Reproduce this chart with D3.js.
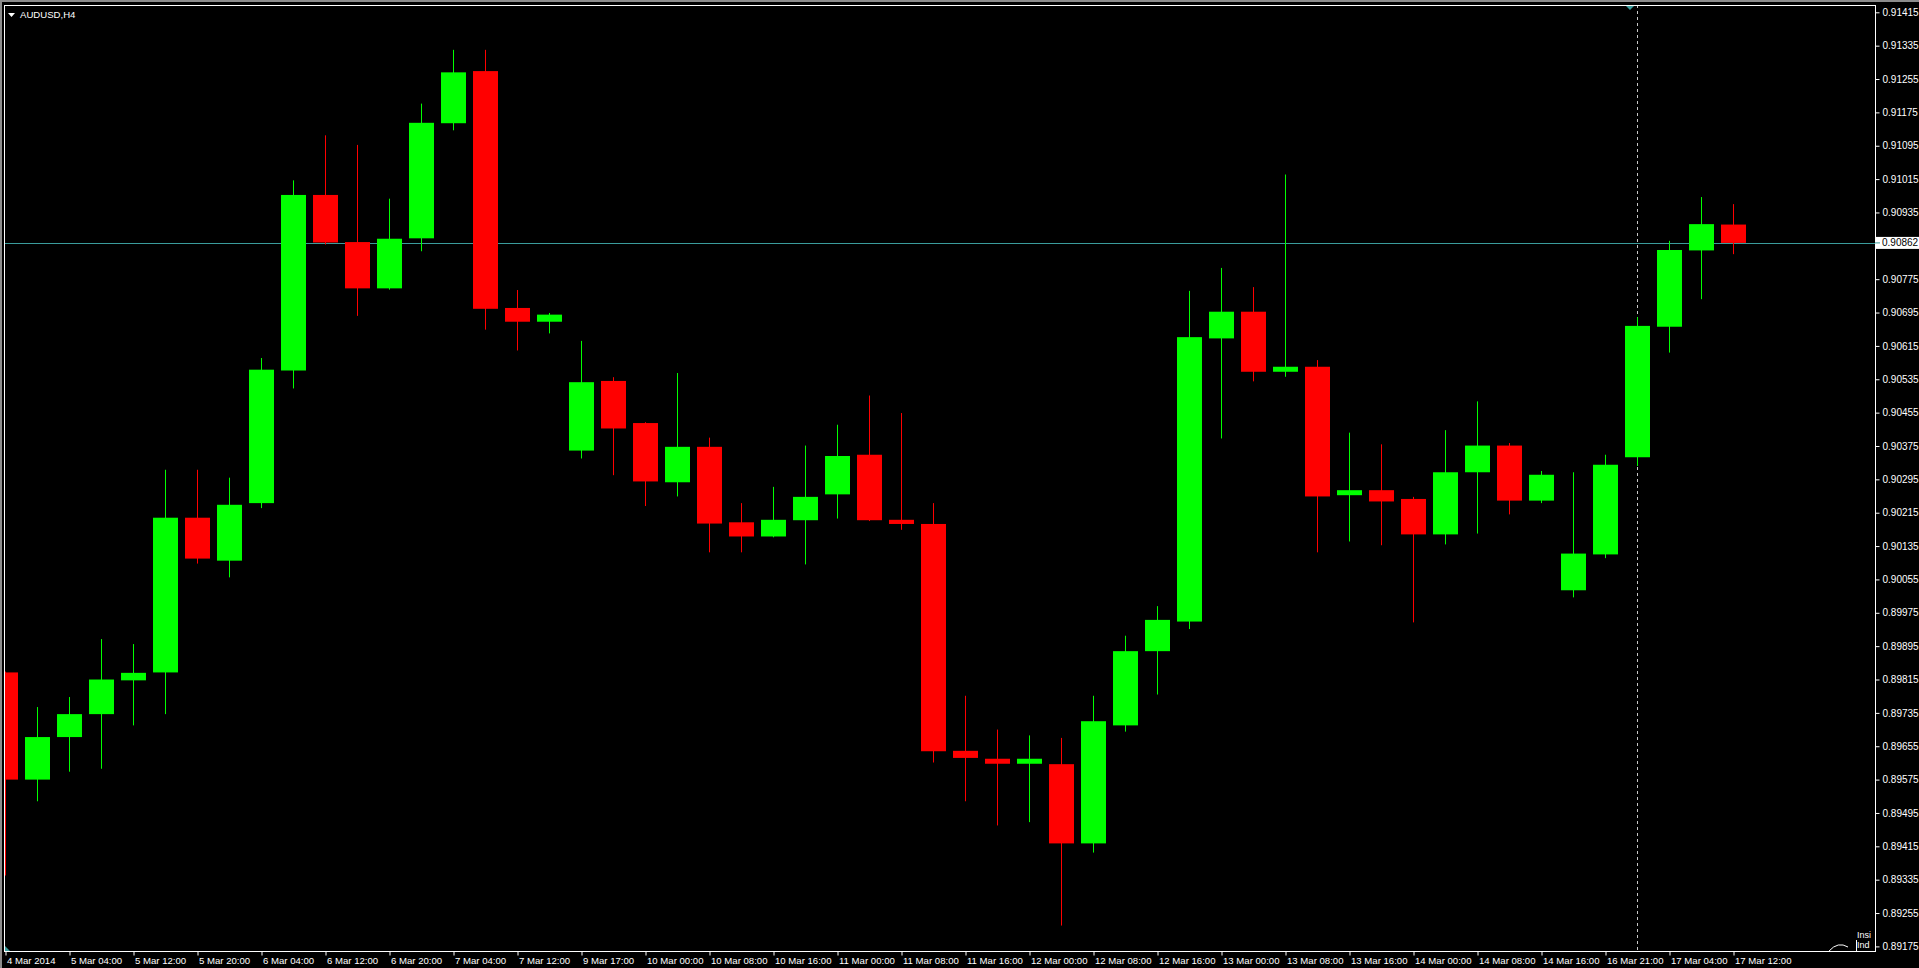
<!DOCTYPE html>
<html>
<head>
<meta charset="utf-8">
<script src="https://cdn.jsdelivr.net/npm/d3@7/dist/d3.min.js"></script>
<style>
  html, body { margin: 0; padding: 0; background: #000; overflow: hidden; }
  svg { display: block; }
  text { font-family: "Liberation Sans", Arial, sans-serif; }
</style>
</head>
<body>
<svg id="chart" width="1919" height="968"></svg>
<script>
// ---------------- DATA ----------------
const symbolTitle = "AUDUSD,H4";
const barTimes = [
  "4 Mar 20:00","5 Mar 00:00","5 Mar 04:00","5 Mar 08:00","5 Mar 12:00","5 Mar 16:00","5 Mar 20:00",
  "6 Mar 00:00","6 Mar 04:00","6 Mar 08:00","6 Mar 12:00","6 Mar 16:00","6 Mar 20:00",
  "7 Mar 00:00","7 Mar 04:00","7 Mar 08:00","7 Mar 12:00","7 Mar 16:00",
  "9 Mar 17:00","9 Mar 20:00",
  "10 Mar 00:00","10 Mar 04:00","10 Mar 08:00","10 Mar 12:00","10 Mar 16:00","10 Mar 20:00",
  "11 Mar 00:00","11 Mar 04:00","11 Mar 08:00","11 Mar 12:00","11 Mar 16:00","11 Mar 20:00",
  "12 Mar 00:00","12 Mar 04:00","12 Mar 08:00","12 Mar 12:00","12 Mar 16:00","12 Mar 20:00",
  "13 Mar 00:00","13 Mar 04:00","13 Mar 08:00","13 Mar 12:00","13 Mar 16:00","13 Mar 20:00",
  "14 Mar 00:00","14 Mar 04:00","14 Mar 08:00","14 Mar 12:00","14 Mar 16:00","14 Mar 20:00",
  "16 Mar 21:00","17 Mar 00:00","17 Mar 04:00","17 Mar 08:00","17 Mar 12:00"
];
const openValues = [
  0.89832,0.89575,0.89677,0.89732,0.89813,0.89832,0.90203,0.90100,0.90238,0.90556,
  0.90977,0.90864,0.90753,0.90873,0.91149,0.91274,0.90706,0.90673,0.90364,0.90531,
  0.90430,0.90288,0.90373,0.90192,0.90158,0.90197,0.90259,0.90354,0.90198,0.90188,
  0.89644,0.89625,0.89613,0.89612,0.89422,0.89705,0.89883,0.89954,0.90633,0.90697,
  0.90553,0.90565,0.90257,0.90269,0.90248,0.90163,0.90312,0.90376,0.90244,0.90029,
  0.90115,0.90348,0.90661,0.90844,0.90906
];
const highValues = [
  0.89834,0.89749,0.89773,0.89912,0.89900,0.90318,0.90318,0.90299,0.90586,0.91012,
  0.91120,0.91097,0.90968,0.91196,0.91325,0.91325,0.90749,0.90694,0.90627,0.90540,
  0.90432,0.90550,0.90395,0.90238,0.90277,0.90376,0.90426,0.90496,0.90454,0.90238,
  0.89776,0.89695,0.89681,0.89675,0.89776,0.89920,0.89991,0.90747,0.90802,0.90756,
  0.91026,0.90581,0.90407,0.90379,0.90253,0.90413,0.90482,0.90382,0.90315,0.90312,
  0.90354,0.90684,0.90867,0.90972,0.90955
];
const lowValues = [
  0.89345,0.89523,0.89594,0.89601,0.89705,0.89732,0.90093,0.90060,0.90226,0.90513,
  0.90858,0.90687,0.90750,0.90842,0.91132,0.90654,0.90604,0.90645,0.90345,0.90305,
  0.90231,0.90254,0.90120,0.90120,0.90156,0.90091,0.90201,0.90195,0.90174,0.89616,
  0.89523,0.89465,0.89473,0.89225,0.89400,0.89690,0.89779,0.89936,0.90393,0.90530,
  0.90541,0.90120,0.90146,0.90137,0.89952,0.90139,0.90165,0.90211,0.90238,0.90012,
  0.90106,0.90327,0.90599,0.90727,0.90835
];
const closeValues = [
  0.89575,0.89677,0.89732,0.89815,0.89831,0.90203,0.90105,0.90234,0.90558,0.90977,
  0.90863,0.90753,0.90872,0.91150,0.91271,0.90704,0.90673,0.90690,0.90528,0.90417,
  0.90290,0.90373,0.90189,0.90158,0.90198,0.90253,0.90351,0.90197,0.90188,0.89643,
  0.89627,0.89613,0.89625,0.89422,0.89715,0.89883,0.89958,0.90636,0.90697,0.90553,
  0.90565,0.90254,0.90269,0.90242,0.90163,0.90312,0.90376,0.90244,0.90306,0.90117,
  0.90330,0.90663,0.90845,0.90907,0.90862
];
const priceTicks = [
  0.91415,0.91335,0.91255,0.91175,0.91095,0.91015,0.90935,0.90775,0.90695,0.90615,
  0.90535,0.90455,0.90375,0.90295,0.90215,0.90135,0.90055,0.89975,0.89895,0.89815,
  0.89735,0.89655,0.89575,0.89495,0.89415,0.89335,0.89255,0.89175
];
const timeTickBars = [
  "4 Mar 20:00","5 Mar 04:00","5 Mar 12:00","5 Mar 20:00","6 Mar 04:00","6 Mar 12:00","6 Mar 20:00",
  "7 Mar 04:00","7 Mar 12:00","9 Mar 17:00","10 Mar 00:00","10 Mar 08:00","10 Mar 16:00",
  "11 Mar 00:00","11 Mar 08:00","11 Mar 16:00","12 Mar 00:00","12 Mar 08:00","12 Mar 16:00",
  "13 Mar 00:00","13 Mar 08:00","13 Mar 16:00","14 Mar 00:00","14 Mar 08:00","14 Mar 16:00",
  "16 Mar 21:00","17 Mar 04:00","17 Mar 12:00"
];
const timeTickLabels = [
  "4 Mar 2014","5 Mar 04:00","5 Mar 12:00","5 Mar 20:00","6 Mar 04:00","6 Mar 12:00","6 Mar 20:00",
  "7 Mar 04:00","7 Mar 12:00","9 Mar 17:00","10 Mar 00:00","10 Mar 08:00","10 Mar 16:00",
  "11 Mar 00:00","11 Mar 08:00","11 Mar 16:00","12 Mar 00:00","12 Mar 08:00","12 Mar 16:00",
  "13 Mar 00:00","13 Mar 08:00","13 Mar 16:00","14 Mar 00:00","14 Mar 08:00","14 Mar 16:00",
  "16 Mar 21:00","17 Mar 04:00","17 Mar 12:00"
];
const currentPrice = 0.90862;
const separatorBar = "17 Mar 00:00";

// ---------------- LAYOUT ----------------
const L = 4, T = 5, R = 1875, B = 951;
const svg = d3.select("#chart");

const bars = barTimes.map((t, i) => ({
  t, o: openValues[i], h: highValues[i], l: lowValues[i], c: closeValues[i]
}));

const x = d3.scalePoint().domain(barTimes).range([5, 5 + 32 * (barTimes.length - 1)]);
const y = d3.scaleLinear().domain([0.89175, 0.91415]).range([946.4, 12.3]);

// window frame (gray strips)
svg.append("rect").attr("x", 0).attr("y", 0).attr("width", 1919).attr("height", 2).attr("fill", "#8c8c8c");
svg.append("rect").attr("x", 0).attr("y", 0).attr("width", 2).attr("height", 968).attr("fill", "#8c8c8c");

svg.append("defs").append("clipPath").attr("id", "plot")
  .append("rect").attr("x", L + 0.5).attr("y", T + 0.5).attr("width", R - L - 0.5).attr("height", B - T - 0.5);

const plot = svg.append("g").attr("clip-path", "url(#plot)");

// current price line
plot.append("line")
  .attr("x1", L).attr("x2", R)
  .attr("y1", Math.round(y(currentPrice)) + 0.5).attr("y2", Math.round(y(currentPrice)) + 0.5)
  .attr("stroke", "#3a9c9c").attr("stroke-width", 1);

// period separator (dashed)
plot.append("line")
  .attr("x1", x(separatorBar) + 0.5).attr("x2", x(separatorBar) + 0.5)
  .attr("y1", T).attr("y2", B)
  .attr("stroke", "#c8c8c8").attr("stroke-width", 1).attr("stroke-dasharray", "3,3");

// candles
const g = plot.selectAll("g.candle").data(bars).join("g").attr("class", "candle");
const col = d => d.c >= d.o ? "#00ff00" : "#ff0000";
g.append("line")
  .attr("x1", d => x(d.t) + 0.5).attr("x2", d => x(d.t) + 0.5)
  .attr("y1", d => y(d.h)).attr("y2", d => y(d.l))
  .attr("stroke", col).attr("stroke-width", 1);
g.append("rect")
  .attr("x", d => x(d.t) - 12)
  .attr("width", 25)
  .attr("y", d => Math.min(y(d.o), y(d.c)))
  .attr("height", d => Math.max(2, Math.abs(y(d.o) - y(d.c))))
  .attr("fill", col);

// frame
svg.append("rect").attr("x", L + 0.5).attr("y", T + 0.5).attr("width", R - L).attr("height", B - T)
  .attr("fill", "none").attr("stroke", "#ffffff").attr("stroke-width", 1);

// price axis
const yAxis = d3.axisRight(y).tickValues(priceTicks).tickSize(4).tickFormat(d3.format(".5f"));
const ya = svg.append("g").attr("transform", `translate(${R + 0.5},0)`).call(yAxis);
ya.select(".domain").remove();
ya.selectAll(".tick line").attr("stroke", "#ffffff");
ya.selectAll(".tick text").attr("fill", "#ffffff").attr("x", 7).attr("font-size", "10px")
  .attr("font-family", "Liberation Sans, Arial, sans-serif");

// current price label
const cy = y(currentPrice);
svg.append("rect").attr("x", R + 1).attr("y", cy - 6).attr("width", 1919 - R - 1).attr("height", 12).attr("fill", "#ffffff");
svg.append("line").attr("x1", R).attr("x2", R + 5).attr("y1", cy).attr("y2", cy).attr("stroke", "#3a9c9c");
svg.append("text").attr("x", R + 7).attr("y", cy).attr("dy", "0.35em").attr("font-size", "10px")
  .attr("fill", "#000").text(d3.format(".5f")(currentPrice));

// time axis
const labelMap = new Map(timeTickBars.map((b, i) => [b, timeTickLabels[i]]));
const xAxis = d3.axisBottom(x).tickValues(timeTickBars).tickSize(4).tickFormat(d => labelMap.get(d));
const xa = svg.append("g").attr("transform", `translate(0.5,${B + 0.5})`).call(xAxis);
xa.select(".domain").remove();
xa.selectAll(".tick line").attr("stroke", "#ffffff");
xa.selectAll(".tick text").attr("fill", "#ffffff").attr("text-anchor", "start")
  .attr("x", 1).attr("y", 6).attr("font-size", "9.6px")
  .attr("font-family", "Liberation Sans, Arial, sans-serif");

// title
svg.append("path").attr("d", "M8,13 L15,13 L11.5,17 Z").attr("fill", "#ffffff");
svg.append("text").attr("x", 20).attr("y", 18).attr("font-size", "9.6px").attr("fill", "#ffffff").text(symbolTitle);

// chart shift marker (top) and bottom-left marker
svg.append("path").attr("d", `M${x(separatorBar) - 11},6 L${x(separatorBar) - 3},6 L${x(separatorBar) - 7},10 Z`).attr("fill", "#3a9c9c");
svg.append("path").attr("d", `M${L + 1},946 L${L + 1},951 L${L + 6},951 Z`).attr("fill", "#3a9c9c");

// partially hidden indicator label at bottom right
const ind = svg.append("g");
ind.append("path").attr("d", "M1829,951 Q1838,941 1848,947").attr("fill", "none").attr("stroke", "#ffffff").attr("stroke-width", 1);
ind.append("text").attr("x", 1857).attr("y", 938).attr("font-size", "9px").attr("fill", "#ffffff").text("Insi");
ind.append("text").attr("x", 1857).attr("y", 948).attr("font-size", "9px").attr("fill", "#ffffff").text("Ind");
ind.append("line").attr("x1", 1856.5).attr("x2", 1856.5).attr("y1", 940).attr("y2", 951).attr("stroke", "#ffffff");
</script>
</body>
</html>
